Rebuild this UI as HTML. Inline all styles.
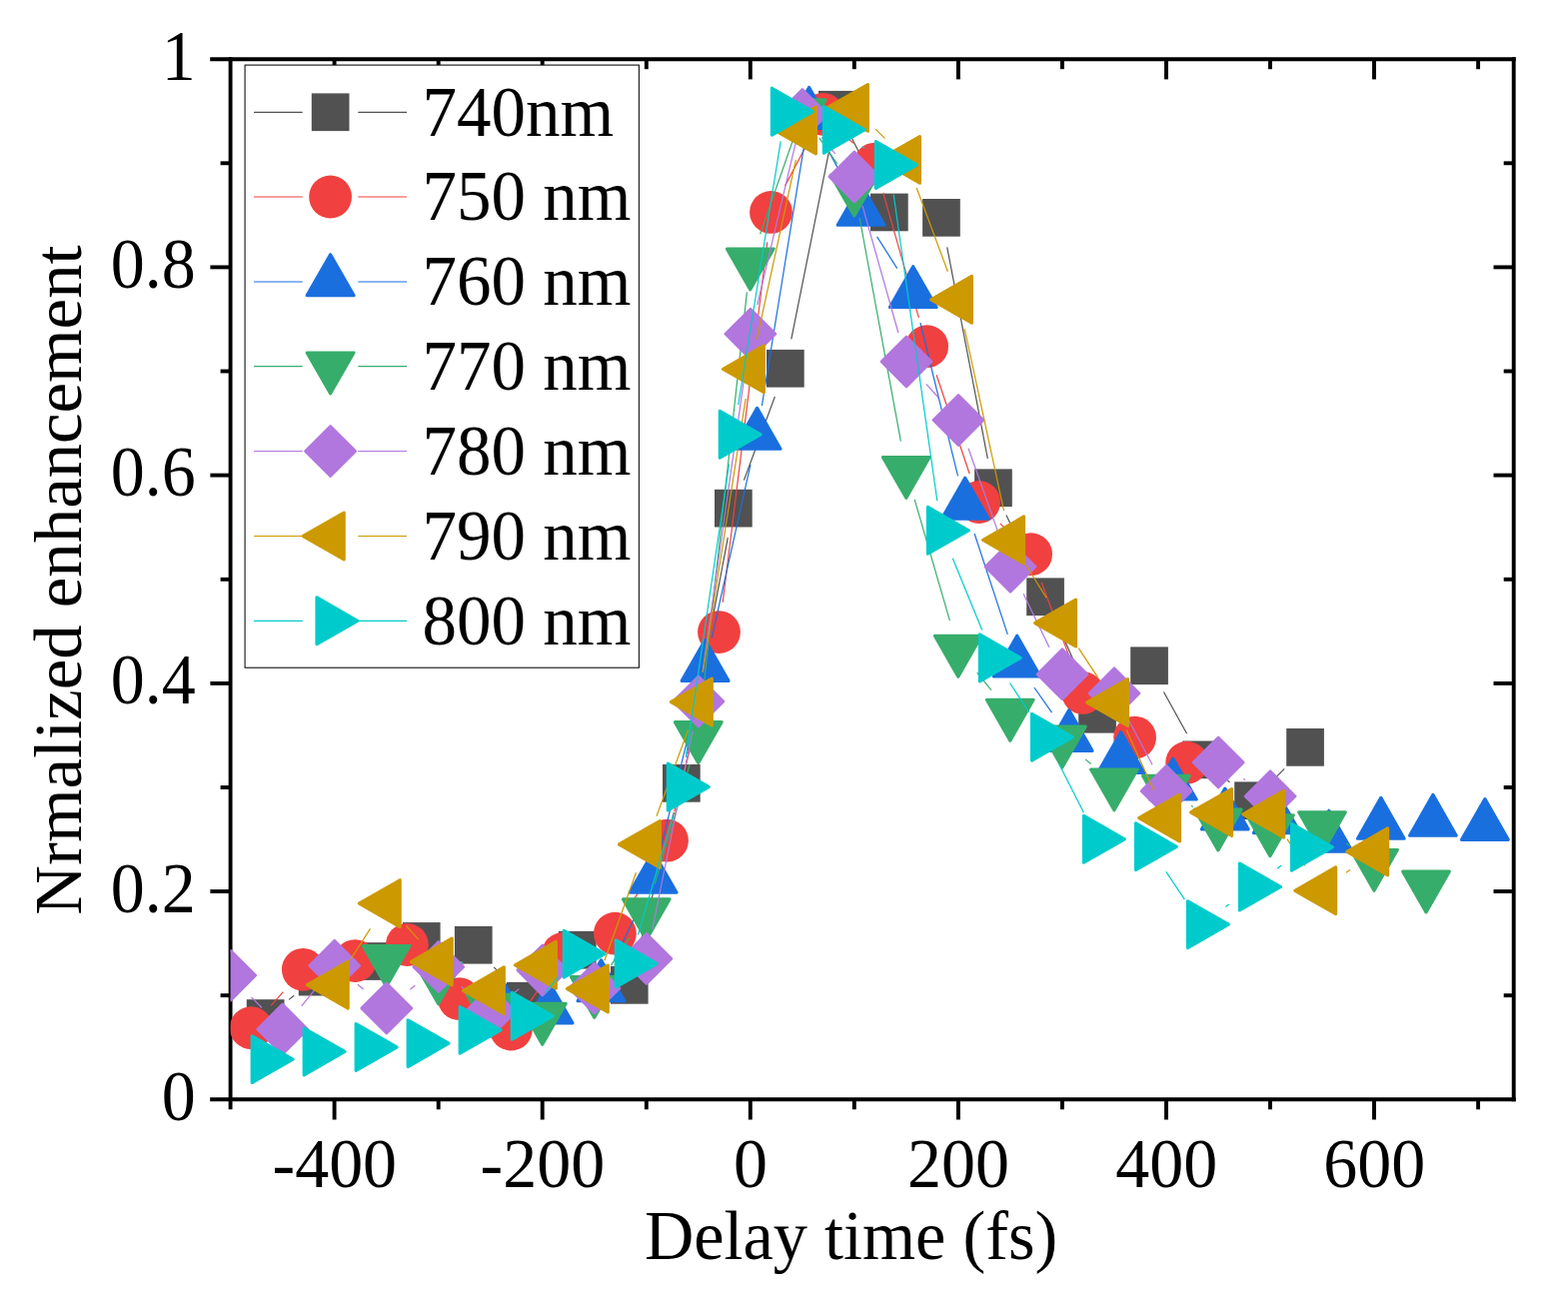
<!DOCTYPE html>
<html lang="en"><head><meta charset="utf-8"><title>Normalized enhancement vs delay time</title>
<style>html,body{margin:0;padding:0;background:#fff}body{width:1569px;height:1311px;overflow:hidden}svg{display:block}text{font-family:"Liberation Serif",serif;fill:#000}</style>
</head><body>
<svg width="1569" height="1311" viewBox="0 0 1569 1311">
<rect width="1569" height="1311" fill="#fff"/>
<g id="axes" stroke="#000" stroke-width="3.9" fill="none" stroke-linecap="butt">
<line x1="210.2" y1="59.2" x2="1516.7" y2="59.2"/>
<line x1="210.2" y1="1100.3" x2="1516.7" y2="1100.3"/>
<line x1="230.6" y1="57.2" x2="230.6" y2="1110.3"/>
<line x1="1514.7" y1="57.2" x2="1514.7" y2="1102.2"/>
<line x1="334.6" y1="1100.3" x2="334.6" y2="1120.5"/>
<line x1="334.6" y1="59.2" x2="334.6" y2="79.4"/>
<line x1="438.7" y1="1100.3" x2="438.7" y2="1110.3"/>
<line x1="438.7" y1="59.2" x2="438.7" y2="69.2"/>
<line x1="542.7" y1="1100.3" x2="542.7" y2="1120.5"/>
<line x1="542.7" y1="59.2" x2="542.7" y2="79.4"/>
<line x1="646.8" y1="1100.3" x2="646.8" y2="1110.3"/>
<line x1="646.8" y1="59.2" x2="646.8" y2="69.2"/>
<line x1="750.8" y1="1100.3" x2="750.8" y2="1120.5"/>
<line x1="750.8" y1="59.2" x2="750.8" y2="79.4"/>
<line x1="854.8" y1="1100.3" x2="854.8" y2="1110.3"/>
<line x1="854.8" y1="59.2" x2="854.8" y2="69.2"/>
<line x1="958.9" y1="1100.3" x2="958.9" y2="1120.5"/>
<line x1="958.9" y1="59.2" x2="958.9" y2="79.4"/>
<line x1="1062.9" y1="1100.3" x2="1062.9" y2="1110.3"/>
<line x1="1062.9" y1="59.2" x2="1062.9" y2="69.2"/>
<line x1="1167" y1="1100.3" x2="1167" y2="1120.5"/>
<line x1="1167" y1="59.2" x2="1167" y2="79.4"/>
<line x1="1271" y1="1100.3" x2="1271" y2="1110.3"/>
<line x1="1271" y1="59.2" x2="1271" y2="69.2"/>
<line x1="1375" y1="1100.3" x2="1375" y2="1120.5"/>
<line x1="1375" y1="59.2" x2="1375" y2="79.4"/>
<line x1="1479.1" y1="1100.3" x2="1479.1" y2="1110.3"/>
<line x1="1479.1" y1="59.2" x2="1479.1" y2="69.2"/>
<line x1="220.6" y1="996.2" x2="230.6" y2="996.2"/>
<line x1="1504.7" y1="996.2" x2="1514.7" y2="996.2"/>
<line x1="210.4" y1="892.1" x2="230.6" y2="892.1"/>
<line x1="1494.5" y1="892.1" x2="1514.7" y2="892.1"/>
<line x1="220.6" y1="788" x2="230.6" y2="788"/>
<line x1="1504.7" y1="788" x2="1514.7" y2="788"/>
<line x1="210.4" y1="683.9" x2="230.6" y2="683.9"/>
<line x1="1494.5" y1="683.9" x2="1514.7" y2="683.9"/>
<line x1="220.6" y1="579.8" x2="230.6" y2="579.8"/>
<line x1="1504.7" y1="579.8" x2="1514.7" y2="579.8"/>
<line x1="210.4" y1="475.6" x2="230.6" y2="475.6"/>
<line x1="1494.5" y1="475.6" x2="1514.7" y2="475.6"/>
<line x1="220.6" y1="371.5" x2="230.6" y2="371.5"/>
<line x1="1504.7" y1="371.5" x2="1514.7" y2="371.5"/>
<line x1="210.4" y1="267.4" x2="230.6" y2="267.4"/>
<line x1="1494.5" y1="267.4" x2="1514.7" y2="267.4"/>
<line x1="220.6" y1="163.3" x2="230.6" y2="163.3"/>
<line x1="1504.7" y1="163.3" x2="1514.7" y2="163.3"/>
</g>
<defs><clipPath id="plotclip"><rect x="230.6" y="59.2" width="1284.1" height="1041.1"/></clipPath></defs>
<g id="series" clip-path="url(#plotclip)">
<g class="s-sq">
<line x1="289.1" y1="1000.4" x2="294.3" y2="996.3" stroke="#515151" stroke-width="1.2"/>
<line x1="494.2" y1="967.8" x2="505.4" y2="979.8" stroke="#515151" stroke-width="1.2"/>
<line x1="547.2" y1="980.8" x2="556.4" y2="971.7" stroke="#515151" stroke-width="1.2"/>
<line x1="602.6" y1="967.5" x2="605" y2="969.1" stroke="#515151" stroke-width="1.2"/>
<line x1="637.3" y1="956.9" x2="674.4" y2="812.9" stroke="#515151" stroke-width="1.2"/>
<line x1="687.5" y1="754.4" x2="728.3" y2="538.2" stroke="#515151" stroke-width="1.2"/>
<line x1="744.4" y1="480.6" x2="775.4" y2="396.9" stroke="#515151" stroke-width="1.2"/>
<line x1="791.8" y1="339.4" x2="832" y2="139.2" stroke="#515151" stroke-width="1.2"/>
<line x1="851.5" y1="136.6" x2="876.3" y2="185.6" stroke="#515151" stroke-width="1.2"/>
<line x1="947.7" y1="247.3" x2="988.3" y2="458.8" stroke="#515151" stroke-width="1.2"/>
<line x1="1006.9" y1="515.4" x2="1033.1" y2="570.1" stroke="#515151" stroke-width="1.2"/>
<line x1="1058.1" y1="624.6" x2="1085.9" y2="687.3" stroke="#515151" stroke-width="1.2"/>
<line x1="1120" y1="694.3" x2="1128" y2="686.7" stroke="#515151" stroke-width="1.2"/>
<line x1="1164.5" y1="692.5" x2="1187.6" y2="734.2" stroke="#515151" stroke-width="1.2"/>
<line x1="1225.7" y1="778.9" x2="1230.5" y2="782.7" stroke="#515151" stroke-width="1.2"/>
<line x1="1275" y1="779.7" x2="1285.2" y2="769.4" stroke="#515151" stroke-width="1.2"/>
<rect x="246.8" y="1000.2" width="37.7" height="37.7" fill="#515151"/>
<rect x="298.8" y="958.8" width="37.7" height="37.7" fill="#515151"/>
<rect x="350.8" y="943.2" width="37.7" height="37.7" fill="#515151"/>
<rect x="402.9" y="923.1" width="37.7" height="37.7" fill="#515151"/>
<rect x="454.9" y="926.9" width="37.7" height="37.7" fill="#515151"/>
<rect x="506.9" y="982.9" width="37.7" height="37.7" fill="#515151"/>
<rect x="558.9" y="931.9" width="37.7" height="37.7" fill="#515151"/>
<rect x="610.9" y="967" width="37.7" height="37.7" fill="#515151"/>
<rect x="663" y="765" width="37.7" height="37.7" fill="#515151"/>
<rect x="715" y="489.8" width="37.7" height="37.7" fill="#515151"/>
<rect x="767" y="349.9" width="37.7" height="37.7" fill="#515151"/>
<rect x="819" y="90.9" width="37.7" height="37.7" fill="#515151"/>
<rect x="871" y="193.6" width="37.7" height="37.7" fill="#515151"/>
<rect x="923.1" y="199" width="37.7" height="37.7" fill="#515151"/>
<rect x="975.1" y="469.4" width="37.7" height="37.7" fill="#515151"/>
<rect x="1027.2" y="578.4" width="37.7" height="37.7" fill="#515151"/>
<rect x="1079.2" y="695.9" width="37.7" height="37.7" fill="#515151"/>
<rect x="1131.2" y="647.4" width="37.7" height="37.7" fill="#515151"/>
<rect x="1183.2" y="741.5" width="37.7" height="37.7" fill="#515151"/>
<rect x="1235.2" y="782.4" width="37.7" height="37.7" fill="#515151"/>
<rect x="1287.2" y="729" width="37.7" height="37.7" fill="#515151"/>
</g>
<g class="s-ci">
<line x1="271.2" y1="1006.3" x2="283.4" y2="992.7" stroke="#F14040" stroke-width="1.2"/>
<line x1="428.2" y1="967.1" x2="438.6" y2="978" stroke="#F14040" stroke-width="1.2"/>
<line x1="528.4" y1="1005.4" x2="546.4" y2="979.2" stroke="#F14040" stroke-width="1.2"/>
<line x1="630.1" y1="908" x2="652.8" y2="867.4" stroke="#F14040" stroke-width="1.2"/>
<line x1="674.8" y1="812.1" x2="712.2" y2="661.7" stroke="#F14040" stroke-width="1.2"/>
<line x1="723.2" y1="602.8" x2="767.8" y2="242.2" stroke="#F14040" stroke-width="1.2"/>
<line x1="785.6" y1="185.9" x2="809.4" y2="140.8" stroke="#F14040" stroke-width="1.2"/>
<line x1="845.2" y1="135" x2="853.8" y2="143.4" stroke="#F14040" stroke-width="1.2"/>
<line x1="883.7" y1="192.9" x2="919.4" y2="317.9" stroke="#F14040" stroke-width="1.2"/>
<line x1="937.1" y1="375.2" x2="970.1" y2="474" stroke="#F14040" stroke-width="1.2"/>
<line x1="1000.8" y1="523.8" x2="1010.4" y2="533.4" stroke="#F14040" stroke-width="1.2"/>
<line x1="1042.1" y1="582.8" x2="1073.1" y2="665.3" stroke="#F14040" stroke-width="1.2"/>
<line x1="1106.3" y1="713" x2="1112.9" y2="718.5" stroke="#F14040" stroke-width="1.2"/>
<circle cx="251.3" cy="1028.7" r="21.4" fill="#F14040"/>
<circle cx="303.3" cy="970.3" r="21.4" fill="#F14040"/>
<circle cx="355.3" cy="961.6" r="21.4" fill="#F14040"/>
<circle cx="407.4" cy="945.5" r="21.4" fill="#F14040"/>
<circle cx="459.4" cy="999.6" r="21.4" fill="#F14040"/>
<circle cx="511.4" cy="1030.1" r="21.4" fill="#F14040"/>
<circle cx="563.4" cy="954.5" r="21.4" fill="#F14040"/>
<circle cx="615.4" cy="934.2" r="21.4" fill="#F14040"/>
<circle cx="667.5" cy="841.2" r="21.4" fill="#F14040"/>
<circle cx="719.5" cy="632.6" r="21.4" fill="#F14040"/>
<circle cx="771.5" cy="212.4" r="21.4" fill="#F14040"/>
<circle cx="823.5" cy="114.3" r="21.4" fill="#F14040"/>
<circle cx="875.5" cy="164.1" r="21.4" fill="#F14040"/>
<circle cx="927.6" cy="346.7" r="21.4" fill="#F14040"/>
<circle cx="979.6" cy="502.5" r="21.4" fill="#F14040"/>
<circle cx="1031.6" cy="554.7" r="21.4" fill="#F14040"/>
<circle cx="1083.6" cy="693.4" r="21.4" fill="#F14040"/>
<circle cx="1135.6" cy="738.1" r="21.4" fill="#F14040"/>
<circle cx="1187.7" cy="763.2" r="21.4" fill="#F14040"/>
</g>
<g class="s-up">
<line x1="614.5" y1="961.1" x2="640.6" y2="906.6" stroke="#1A6FDF" stroke-width="1.2"/>
<line x1="660.8" y1="850.5" x2="698.4" y2="696.9" stroke="#1A6FDF" stroke-width="1.2"/>
<line x1="712.2" y1="638.5" x2="751" y2="464.9" stroke="#1A6FDF" stroke-width="1.2"/>
<line x1="762.4" y1="406" x2="804.8" y2="144.3" stroke="#1A6FDF" stroke-width="1.2"/>
<line x1="823.8" y1="141.1" x2="847.4" y2="185.2" stroke="#1A6FDF" stroke-width="1.2"/>
<line x1="877.6" y1="236.9" x2="897.7" y2="268.6" stroke="#1A6FDF" stroke-width="1.2"/>
<line x1="920.9" y1="323" x2="958.5" y2="476.4" stroke="#1A6FDF" stroke-width="1.2"/>
<line x1="975.1" y1="534" x2="1008.3" y2="634.9" stroke="#1A6FDF" stroke-width="1.2"/>
<line x1="1034.9" y1="688" x2="1052.5" y2="713.2" stroke="#1A6FDF" stroke-width="1.2"/>
<polygon points="497.5,971.8 520.9,1012.6 474.1,1012.6" fill="#1A6FDF" stroke="#1A6FDF" stroke-width="3.2" stroke-linejoin="round"/>
<polygon points="549.5,983 572.9,1023.8 526.1,1023.8" fill="#1A6FDF" stroke="#1A6FDF" stroke-width="3.2" stroke-linejoin="round"/>
<polygon points="601.5,960.9 624.9,1001.7 578.1,1001.7" fill="#1A6FDF" stroke="#1A6FDF" stroke-width="3.2" stroke-linejoin="round"/>
<polygon points="653.6,852.4 677,893.2 630.2,893.2" fill="#1A6FDF" stroke="#1A6FDF" stroke-width="3.2" stroke-linejoin="round"/>
<polygon points="705.6,640.6 729,681.4 682.2,681.4" fill="#1A6FDF" stroke="#1A6FDF" stroke-width="3.2" stroke-linejoin="round"/>
<polygon points="757.6,408.4 781,449.2 734.2,449.2" fill="#1A6FDF" stroke="#1A6FDF" stroke-width="3.2" stroke-linejoin="round"/>
<polygon points="809.6,87.5 833,128.3 786.2,128.3" fill="#1A6FDF" stroke="#1A6FDF" stroke-width="3.2" stroke-linejoin="round"/>
<polygon points="861.6,184.4 885,225.2 838.2,225.2" fill="#1A6FDF" stroke="#1A6FDF" stroke-width="3.2" stroke-linejoin="round"/>
<polygon points="913.7,266.7 937.1,307.5 890.4,307.5" fill="#1A6FDF" stroke="#1A6FDF" stroke-width="3.2" stroke-linejoin="round"/>
<polygon points="965.7,478.3 989.1,519.1 942.4,519.1" fill="#1A6FDF" stroke="#1A6FDF" stroke-width="3.2" stroke-linejoin="round"/>
<polygon points="1017.7,636.2 1041,677 994.4,677" fill="#1A6FDF" stroke="#1A6FDF" stroke-width="3.2" stroke-linejoin="round"/>
<polygon points="1069.7,710.6 1093,751.4 1046.4,751.4" fill="#1A6FDF" stroke="#1A6FDF" stroke-width="3.2" stroke-linejoin="round"/>
<polygon points="1121.7,732.7 1145,773.5 1098.4,773.5" fill="#1A6FDF" stroke="#1A6FDF" stroke-width="3.2" stroke-linejoin="round"/>
<polygon points="1173.8,759.2 1197.1,800 1150.5,800" fill="#1A6FDF" stroke="#1A6FDF" stroke-width="3.2" stroke-linejoin="round"/>
<polygon points="1225.8,789.1 1249.1,829.9 1202.5,829.9" fill="#1A6FDF" stroke="#1A6FDF" stroke-width="3.2" stroke-linejoin="round"/>
<polygon points="1277.8,792.8 1301.1,833.6 1254.5,833.6" fill="#1A6FDF" stroke="#1A6FDF" stroke-width="3.2" stroke-linejoin="round"/>
<polygon points="1329.8,811.3 1353.1,852.1 1306.5,852.1" fill="#1A6FDF" stroke="#1A6FDF" stroke-width="3.2" stroke-linejoin="round"/>
<polygon points="1381.8,798.4 1405.1,839.2 1358.5,839.2" fill="#1A6FDF" stroke="#1A6FDF" stroke-width="3.2" stroke-linejoin="round"/>
<polygon points="1433.9,795.4 1457.2,836.2 1410.6,836.2" fill="#1A6FDF" stroke="#1A6FDF" stroke-width="3.2" stroke-linejoin="round"/>
<polygon points="1485.9,799.6 1509.2,840.4 1462.6,840.4" fill="#1A6FDF" stroke="#1A6FDF" stroke-width="3.2" stroke-linejoin="round"/>
</g>
<g class="s-dn">
<line x1="464.2" y1="992.9" x2="465" y2="993.3" stroke="#37AD6B" stroke-width="1.2"/>
<line x1="611.4" y1="966.2" x2="630" y2="938.3" stroke="#37AD6B" stroke-width="1.2"/>
<line x1="655.2" y1="884.6" x2="690.2" y2="765.1" stroke="#37AD6B" stroke-width="1.2"/>
<line x1="702" y1="706.5" x2="747.4" y2="292.4" stroke="#37AD6B" stroke-width="1.2"/>
<line x1="760.6" y1="234.3" x2="792.9" y2="141.8" stroke="#37AD6B" stroke-width="1.2"/>
<line x1="819.9" y1="138.2" x2="837.7" y2="164" stroke="#37AD6B" stroke-width="1.2"/>
<line x1="860.2" y1="218.2" x2="901.4" y2="441.6" stroke="#37AD6B" stroke-width="1.2"/>
<line x1="915.2" y1="499.9" x2="950.4" y2="621.1" stroke="#37AD6B" stroke-width="1.2"/>
<line x1="977.7" y1="673.2" x2="991.9" y2="690.6" stroke="#37AD6B" stroke-width="1.2"/>
<line x1="1086.1" y1="759.9" x2="1091.7" y2="764.5" stroke="#37AD6B" stroke-width="1.2"/>
<line x1="1192.1" y1="806.3" x2="1193.7" y2="807.4" stroke="#37AD6B" stroke-width="1.2"/>
<line x1="1347.3" y1="844" x2="1350.7" y2="846.5" stroke="#37AD6B" stroke-width="1.2"/>
<polygon points="386.6,987.3 410,946.5 363.2,946.5" fill="#37AD6B" stroke="#37AD6B" stroke-width="3.2" stroke-linejoin="round"/>
<polygon points="438.6,1004.5 462,963.7 415.2,963.7" fill="#37AD6B" stroke="#37AD6B" stroke-width="3.2" stroke-linejoin="round"/>
<polygon points="490.6,1036.1 514,995.3 467.2,995.3" fill="#37AD6B" stroke="#37AD6B" stroke-width="3.2" stroke-linejoin="round"/>
<polygon points="542.7,1045.2 566.1,1004.4 519.4,1004.4" fill="#37AD6B" stroke="#37AD6B" stroke-width="3.2" stroke-linejoin="round"/>
<polygon points="594.7,1018.3 618.1,977.5 571.4,977.5" fill="#37AD6B" stroke="#37AD6B" stroke-width="3.2" stroke-linejoin="round"/>
<polygon points="646.7,940.6 670.1,899.8 623.4,899.8" fill="#37AD6B" stroke="#37AD6B" stroke-width="3.2" stroke-linejoin="round"/>
<polygon points="698.7,763.5 722.1,722.7 675.4,722.7" fill="#37AD6B" stroke="#37AD6B" stroke-width="3.2" stroke-linejoin="round"/>
<polygon points="750.7,289.8 774.1,249 727.4,249" fill="#37AD6B" stroke="#37AD6B" stroke-width="3.2" stroke-linejoin="round"/>
<polygon points="802.8,140.7 826.1,99.9 779.4,99.9" fill="#37AD6B" stroke="#37AD6B" stroke-width="3.2" stroke-linejoin="round"/>
<polygon points="854.8,215.9 878.1,175.1 831.4,175.1" fill="#37AD6B" stroke="#37AD6B" stroke-width="3.2" stroke-linejoin="round"/>
<polygon points="906.8,498.3 930.1,457.5 883.4,457.5" fill="#37AD6B" stroke="#37AD6B" stroke-width="3.2" stroke-linejoin="round"/>
<polygon points="958.8,677.1 982.1,636.3 935.4,636.3" fill="#37AD6B" stroke="#37AD6B" stroke-width="3.2" stroke-linejoin="round"/>
<polygon points="1010.8,741.1 1034.1,700.3 987.4,700.3" fill="#37AD6B" stroke="#37AD6B" stroke-width="3.2" stroke-linejoin="round"/>
<polygon points="1062.9,768 1086.2,727.2 1039.6,727.2" fill="#37AD6B" stroke="#37AD6B" stroke-width="3.2" stroke-linejoin="round"/>
<polygon points="1114.9,810.8 1138.2,770 1091.6,770" fill="#37AD6B" stroke="#37AD6B" stroke-width="3.2" stroke-linejoin="round"/>
<polygon points="1166.9,817.2 1190.2,776.4 1143.6,776.4" fill="#37AD6B" stroke="#37AD6B" stroke-width="3.2" stroke-linejoin="round"/>
<polygon points="1218.9,850.9 1242.2,810.1 1195.6,810.1" fill="#37AD6B" stroke="#37AD6B" stroke-width="3.2" stroke-linejoin="round"/>
<polygon points="1270.9,856.6 1294.2,815.8 1247.6,815.8" fill="#37AD6B" stroke="#37AD6B" stroke-width="3.2" stroke-linejoin="round"/>
<polygon points="1323,853.6 1346.3,812.8 1299.7,812.8" fill="#37AD6B" stroke="#37AD6B" stroke-width="3.2" stroke-linejoin="round"/>
<polygon points="1375,891.3 1398.3,850.5 1351.7,850.5" fill="#37AD6B" stroke="#37AD6B" stroke-width="3.2" stroke-linejoin="round"/>
<polygon points="1427,912.9 1450.3,872.1 1403.7,872.1" fill="#37AD6B" stroke="#37AD6B" stroke-width="3.2" stroke-linejoin="round"/>
</g>
<g class="s-di">
<line x1="251.5" y1="997.8" x2="261.9" y2="1008.5" stroke="#B177DE" stroke-width="1.2"/>
<line x1="301.7" y1="1006.8" x2="315.7" y2="989.6" stroke="#B177DE" stroke-width="1.2"/>
<line x1="357.9" y1="985.3" x2="363.6" y2="990" stroke="#B177DE" stroke-width="1.2"/>
<line x1="410.3" y1="990.3" x2="415.3" y2="986.3" stroke="#B177DE" stroke-width="1.2"/>
<line x1="461.5" y1="987.2" x2="468.1" y2="992.8" stroke="#B177DE" stroke-width="1.2"/>
<line x1="514.2" y1="993.7" x2="519.4" y2="989.6" stroke="#B177DE" stroke-width="1.2"/>
<line x1="652.8" y1="930" x2="693" y2="731.4" stroke="#B177DE" stroke-width="1.2"/>
<line x1="703.1" y1="672.3" x2="746.7" y2="363.9" stroke="#B177DE" stroke-width="1.2"/>
<line x1="757.8" y1="305" x2="796" y2="143.6" stroke="#B177DE" stroke-width="1.2"/>
<line x1="822.1" y1="137.5" x2="835.7" y2="153.8" stroke="#B177DE" stroke-width="1.2"/>
<line x1="863" y1="205.8" x2="898.9" y2="333" stroke="#B177DE" stroke-width="1.2"/>
<line x1="926.9" y1="384.3" x2="939.1" y2="398" stroke="#B177DE" stroke-width="1.2"/>
<line x1="969" y1="448.7" x2="1001" y2="538.9" stroke="#B177DE" stroke-width="1.2"/>
<line x1="1024.1" y1="594.2" x2="1049.9" y2="647.8" stroke="#B177DE" stroke-width="1.2"/>
<line x1="1129.1" y1="720.3" x2="1153" y2="765.1" stroke="#B177DE" stroke-width="1.2"/>
<line x1="1244.3" y1="779.3" x2="1245.9" y2="780.5" stroke="#B177DE" stroke-width="1.2"/>
<polygon points="230.7,951.1 255.8,976.2 230.7,1001.3 205.6,976.2" fill="#B177DE" stroke="#B177DE" stroke-width="2.6" stroke-linejoin="round"/>
<polygon points="282.7,1005 307.8,1030.1 282.7,1055.2 257.6,1030.1" fill="#B177DE" stroke="#B177DE" stroke-width="2.6" stroke-linejoin="round"/>
<polygon points="334.7,941.2 359.8,966.3 334.7,991.4 309.6,966.3" fill="#B177DE" stroke="#B177DE" stroke-width="2.6" stroke-linejoin="round"/>
<polygon points="386.8,983.9 411.9,1009 386.8,1034.1 361.7,1009" fill="#B177DE" stroke="#B177DE" stroke-width="2.6" stroke-linejoin="round"/>
<polygon points="438.8,942.5 463.9,967.6 438.8,992.7 413.7,967.6" fill="#B177DE" stroke="#B177DE" stroke-width="2.6" stroke-linejoin="round"/>
<polygon points="490.8,987.3 515.9,1012.4 490.8,1037.5 465.7,1012.4" fill="#B177DE" stroke="#B177DE" stroke-width="2.6" stroke-linejoin="round"/>
<polygon points="542.8,945.8 567.9,970.9 542.8,996 517.7,970.9" fill="#B177DE" stroke="#B177DE" stroke-width="2.6" stroke-linejoin="round"/>
<polygon points="594.8,963.9 619.9,989 594.8,1014.1 569.7,989" fill="#B177DE" stroke="#B177DE" stroke-width="2.6" stroke-linejoin="round"/>
<polygon points="646.9,934.3 672,959.4 646.9,984.5 621.8,959.4" fill="#B177DE" stroke="#B177DE" stroke-width="2.6" stroke-linejoin="round"/>
<polygon points="698.9,676.9 724,702 698.9,727.1 673.8,702" fill="#B177DE" stroke="#B177DE" stroke-width="2.6" stroke-linejoin="round"/>
<polygon points="750.9,309.1 776,334.2 750.9,359.3 725.8,334.2" fill="#B177DE" stroke="#B177DE" stroke-width="2.6" stroke-linejoin="round"/>
<polygon points="802.9,89.3 828,114.4 802.9,139.5 777.8,114.4" fill="#B177DE" stroke="#B177DE" stroke-width="2.6" stroke-linejoin="round"/>
<polygon points="854.9,151.8 880,176.9 854.9,202 829.8,176.9" fill="#B177DE" stroke="#B177DE" stroke-width="2.6" stroke-linejoin="round"/>
<polygon points="907,336.8 932.1,361.9 907,387 881.9,361.9" fill="#B177DE" stroke="#B177DE" stroke-width="2.6" stroke-linejoin="round"/>
<polygon points="959,395.3 984.1,420.4 959,445.5 933.9,420.4" fill="#B177DE" stroke="#B177DE" stroke-width="2.6" stroke-linejoin="round"/>
<polygon points="1011,542.1 1036.1,567.2 1011,592.3 985.9,567.2" fill="#B177DE" stroke="#B177DE" stroke-width="2.6" stroke-linejoin="round"/>
<polygon points="1063,649.7 1088.1,674.8 1063,699.9 1037.9,674.8" fill="#B177DE" stroke="#B177DE" stroke-width="2.6" stroke-linejoin="round"/>
<polygon points="1115,668.7 1140.1,693.8 1115,718.9 1089.9,693.8" fill="#B177DE" stroke="#B177DE" stroke-width="2.6" stroke-linejoin="round"/>
<polygon points="1167.1,766.5 1192.2,791.6 1167.1,816.7 1142,791.6" fill="#B177DE" stroke="#B177DE" stroke-width="2.6" stroke-linejoin="round"/>
<polygon points="1219.1,737.9 1244.2,763 1219.1,788.1 1194,763" fill="#B177DE" stroke="#B177DE" stroke-width="2.6" stroke-linejoin="round"/>
<polygon points="1271.1,771.7 1296.2,796.8 1271.1,821.9 1246,796.8" fill="#B177DE" stroke="#B177DE" stroke-width="2.6" stroke-linejoin="round"/>
</g>
<g class="s-lt">
<line x1="350.7" y1="960.4" x2="370.5" y2="929.4" stroke="#CC9900" stroke-width="1.2"/>
<line x1="406.5" y1="926.5" x2="418.7" y2="940.1" stroke="#CC9900" stroke-width="1.2"/>
<line x1="604.9" y1="961.3" x2="636.5" y2="873.2" stroke="#CC9900" stroke-width="1.2"/>
<line x1="657" y1="816.8" x2="688.4" y2="730.7" stroke="#CC9900" stroke-width="1.2"/>
<line x1="703.3" y1="672.9" x2="746.2" y2="398.9" stroke="#CC9900" stroke-width="1.2"/>
<line x1="757.2" y1="340" x2="796.4" y2="159.8" stroke="#CC9900" stroke-width="1.2"/>
<line x1="876" y1="129.1" x2="885.6" y2="138.7" stroke="#CC9900" stroke-width="1.2"/>
<line x1="917.2" y1="188" x2="948.4" y2="271.8" stroke="#CC9900" stroke-width="1.2"/>
<line x1="965.2" y1="329.2" x2="1004.5" y2="511.1" stroke="#CC9900" stroke-width="1.2"/>
<line x1="1026.8" y1="565.8" x2="1047" y2="598.1" stroke="#CC9900" stroke-width="1.2"/>
<line x1="1079.3" y1="648.6" x2="1098.5" y2="677.9" stroke="#CC9900" stroke-width="1.2"/>
<line x1="1127.2" y1="730.4" x2="1154.6" y2="791.2" stroke="#CC9900" stroke-width="1.2"/>
<line x1="1287.9" y1="839.6" x2="1306.1" y2="866.5" stroke="#CC9900" stroke-width="1.2"/>
<line x1="1347" y1="873.3" x2="1351" y2="870.4" stroke="#CC9900" stroke-width="1.2"/>
<polygon points="307.4,985.7 348.2,962.4 348.2,1009.1" fill="#CC9900" stroke="#CC9900" stroke-width="3.2" stroke-linejoin="round"/>
<polygon points="359.4,904.1 400.2,880.8 400.2,927.5" fill="#CC9900" stroke="#CC9900" stroke-width="3.2" stroke-linejoin="round"/>
<polygon points="411.4,962.5 452.2,939.1 452.2,985.9" fill="#CC9900" stroke="#CC9900" stroke-width="3.2" stroke-linejoin="round"/>
<polygon points="463.5,991.3 504.3,967.9 504.3,1014.6" fill="#CC9900" stroke="#CC9900" stroke-width="3.2" stroke-linejoin="round"/>
<polygon points="515.5,965.9 556.3,942.5 556.3,989.2" fill="#CC9900" stroke="#CC9900" stroke-width="3.2" stroke-linejoin="round"/>
<polygon points="567.5,989.5 608.3,966.1 608.3,1012.9" fill="#CC9900" stroke="#CC9900" stroke-width="3.2" stroke-linejoin="round"/>
<polygon points="619.5,845 660.3,821.6 660.3,868.4" fill="#CC9900" stroke="#CC9900" stroke-width="3.2" stroke-linejoin="round"/>
<polygon points="671.5,702.5 712.3,679.1 712.3,725.9" fill="#CC9900" stroke="#CC9900" stroke-width="3.2" stroke-linejoin="round"/>
<polygon points="723.6,369.3 764.4,345.9 764.4,392.7" fill="#CC9900" stroke="#CC9900" stroke-width="3.2" stroke-linejoin="round"/>
<polygon points="775.6,130.5 816.4,107.2 816.4,153.8" fill="#CC9900" stroke="#CC9900" stroke-width="3.2" stroke-linejoin="round"/>
<polygon points="827.6,107.9 868.4,84.6 868.4,131.2" fill="#CC9900" stroke="#CC9900" stroke-width="3.2" stroke-linejoin="round"/>
<polygon points="879.6,159.9 920.4,136.6 920.4,183.2" fill="#CC9900" stroke="#CC9900" stroke-width="3.2" stroke-linejoin="round"/>
<polygon points="931.6,299.9 972.4,276.5 972.4,323.2" fill="#CC9900" stroke="#CC9900" stroke-width="3.2" stroke-linejoin="round"/>
<polygon points="983.7,540.4 1024.5,517 1024.5,563.8" fill="#CC9900" stroke="#CC9900" stroke-width="3.2" stroke-linejoin="round"/>
<polygon points="1035.7,623.5 1076.5,600.1 1076.5,646.9" fill="#CC9900" stroke="#CC9900" stroke-width="3.2" stroke-linejoin="round"/>
<polygon points="1087.7,703 1128.5,679.6 1128.5,726.4" fill="#CC9900" stroke="#CC9900" stroke-width="3.2" stroke-linejoin="round"/>
<polygon points="1139.7,818.6 1180.5,795.2 1180.5,842" fill="#CC9900" stroke="#CC9900" stroke-width="3.2" stroke-linejoin="round"/>
<polygon points="1191.7,813 1232.5,789.6 1232.5,836.4" fill="#CC9900" stroke="#CC9900" stroke-width="3.2" stroke-linejoin="round"/>
<polygon points="1243.8,814.8 1284.6,791.4 1284.6,838.1" fill="#CC9900" stroke="#CC9900" stroke-width="3.2" stroke-linejoin="round"/>
<polygon points="1295.8,891.3 1336.6,867.9 1336.6,914.6" fill="#CC9900" stroke="#CC9900" stroke-width="3.2" stroke-linejoin="round"/>
<polygon points="1347.8,852.4 1388.6,829 1388.6,875.8" fill="#CC9900" stroke="#CC9900" stroke-width="3.2" stroke-linejoin="round"/>
</g>
<g class="s-rt">
<line x1="545.1" y1="993.9" x2="558.7" y2="977.7" stroke="#00CBCC" stroke-width="1.2"/>
<line x1="638.4" y1="935.6" x2="673.4" y2="816.3" stroke="#00CBCC" stroke-width="1.2"/>
<line x1="686.3" y1="757.8" x2="729.5" y2="464.5" stroke="#00CBCC" stroke-width="1.2"/>
<line x1="738.7" y1="405.2" x2="781.2" y2="141.3" stroke="#00CBCC" stroke-width="1.2"/>
<line x1="862.9" y1="146.7" x2="865.1" y2="148.2" stroke="#00CBCC" stroke-width="1.2"/>
<line x1="894.2" y1="194.7" x2="937.8" y2="501.2" stroke="#00CBCC" stroke-width="1.2"/>
<line x1="953.3" y1="558.7" x2="982.7" y2="630.6" stroke="#00CBCC" stroke-width="1.2"/>
<line x1="1010.5" y1="683.5" x2="1029.6" y2="712.6" stroke="#00CBCC" stroke-width="1.2"/>
<line x1="1059.7" y1="764.4" x2="1084.5" y2="813.2" stroke="#00CBCC" stroke-width="1.2"/>
<line x1="1166.8" y1="872.3" x2="1185.4" y2="900.2" stroke="#00CBCC" stroke-width="1.2"/>
<line x1="1226.4" y1="907.6" x2="1229.8" y2="905.1" stroke="#00CBCC" stroke-width="1.2"/>
<line x1="1278" y1="869.3" x2="1282.3" y2="866.1" stroke="#00CBCC" stroke-width="1.2"/>
<polygon points="293,1060.2 252.2,1036.9 252.2,1083.5" fill="#00CBCC" stroke="#00CBCC" stroke-width="3.2" stroke-linejoin="round"/>
<polygon points="345,1052.4 304.2,1029.1 304.2,1075.8" fill="#00CBCC" stroke="#00CBCC" stroke-width="3.2" stroke-linejoin="round"/>
<polygon points="397,1048 356.2,1024.7 356.2,1071.3" fill="#00CBCC" stroke="#00CBCC" stroke-width="3.2" stroke-linejoin="round"/>
<polygon points="449,1044.2 408.2,1020.9 408.2,1067.5" fill="#00CBCC" stroke="#00CBCC" stroke-width="3.2" stroke-linejoin="round"/>
<polygon points="501,1030.9 460.2,1007.6 460.2,1054.2" fill="#00CBCC" stroke="#00CBCC" stroke-width="3.2" stroke-linejoin="round"/>
<polygon points="553.1,1016.9 512.3,993.5 512.3,1040.2" fill="#00CBCC" stroke="#00CBCC" stroke-width="3.2" stroke-linejoin="round"/>
<polygon points="605.1,954.7 564.3,931.4 564.3,978.1" fill="#00CBCC" stroke="#00CBCC" stroke-width="3.2" stroke-linejoin="round"/>
<polygon points="657.1,964.4 616.3,941 616.3,987.8" fill="#00CBCC" stroke="#00CBCC" stroke-width="3.2" stroke-linejoin="round"/>
<polygon points="709.1,787.5 668.3,764.1 668.3,810.9" fill="#00CBCC" stroke="#00CBCC" stroke-width="3.2" stroke-linejoin="round"/>
<polygon points="761.1,434.8 720.3,411.4 720.3,458.2" fill="#00CBCC" stroke="#00CBCC" stroke-width="3.2" stroke-linejoin="round"/>
<polygon points="813.2,111.7 772.4,88.3 772.4,135.1" fill="#00CBCC" stroke="#00CBCC" stroke-width="3.2" stroke-linejoin="round"/>
<polygon points="865.2,129.9 824.4,106.6 824.4,153.2" fill="#00CBCC" stroke="#00CBCC" stroke-width="3.2" stroke-linejoin="round"/>
<polygon points="917.2,165 876.4,141.7 876.4,188.3" fill="#00CBCC" stroke="#00CBCC" stroke-width="3.2" stroke-linejoin="round"/>
<polygon points="969.2,530.9 928.4,507.5 928.4,554.2" fill="#00CBCC" stroke="#00CBCC" stroke-width="3.2" stroke-linejoin="round"/>
<polygon points="1021.2,658.4 980.4,635 980.4,681.8" fill="#00CBCC" stroke="#00CBCC" stroke-width="3.2" stroke-linejoin="round"/>
<polygon points="1073.3,737.7 1032.5,714.4 1032.5,761.1" fill="#00CBCC" stroke="#00CBCC" stroke-width="3.2" stroke-linejoin="round"/>
<polygon points="1125.3,839.9 1084.5,816.5 1084.5,863.2" fill="#00CBCC" stroke="#00CBCC" stroke-width="3.2" stroke-linejoin="round"/>
<polygon points="1177.3,847.3 1136.5,823.9 1136.5,870.6" fill="#00CBCC" stroke="#00CBCC" stroke-width="3.2" stroke-linejoin="round"/>
<polygon points="1229.3,925.2 1188.5,901.9 1188.5,948.6" fill="#00CBCC" stroke="#00CBCC" stroke-width="3.2" stroke-linejoin="round"/>
<polygon points="1281.3,887.5 1240.5,864.1 1240.5,910.9" fill="#00CBCC" stroke="#00CBCC" stroke-width="3.2" stroke-linejoin="round"/>
<polygon points="1333.4,847.9 1292.6,824.5 1292.6,871.2" fill="#00CBCC" stroke="#00CBCC" stroke-width="3.2" stroke-linejoin="round"/>
</g>
</g>
<g id="ticklabels" font-size="68">
<text transform="translate(334.8,1188.3) scale(1,1.035)" text-anchor="middle">-400</text>
<text transform="translate(542.9,1188.3) scale(1,1.035)" text-anchor="middle">-200</text>
<text transform="translate(751,1188.3) scale(1,1.035)" text-anchor="middle">0</text>
<text transform="translate(959.1,1188.3) scale(1,1.035)" text-anchor="middle">200</text>
<text transform="translate(1167.2,1188.3) scale(1,1.035)" text-anchor="middle">400</text>
<text transform="translate(1375.2,1188.3) scale(1,1.035)" text-anchor="middle">600</text>
<text transform="translate(195.8,1120.8) scale(1,1.046)" text-anchor="end">0</text>
<text transform="translate(195.8,912.6) scale(1,1.046)" text-anchor="end">0.2</text>
<text transform="translate(195.8,704.4) scale(1,1.046)" text-anchor="end">0.4</text>
<text transform="translate(195.8,496.1) scale(1,1.046)" text-anchor="end">0.6</text>
<text transform="translate(195.8,287.9) scale(1,1.046)" text-anchor="end">0.8</text>
<text transform="translate(195.8,79.7) scale(1,1.046)" text-anchor="end">1</text>
</g>
<text id="xtitle" transform="translate(851.6,1259.8) scale(1,1.01)" font-size="68.3" text-anchor="middle">Delay time (fs)</text>
<text id="ytitle" transform="translate(81,580.5) rotate(-90) scale(1,0.985)" font-size="68.8" text-anchor="middle">Nrmalized enhancement</text>
<g id="legend">
<rect x="245.1" y="65.1" width="394.3" height="603.1" fill="#fff" stroke="#111" stroke-width="1.1"/>
<line x1="254" y1="112.3" x2="302.7" y2="112.3" stroke="#515151" stroke-width="1.2"/>
<line x1="358.3" y1="112.3" x2="407.1" y2="112.3" stroke="#515151" stroke-width="1.2"/>
<rect x="311.8" y="93.4" width="37.7" height="37.7" fill="#515151"/>
<text transform="translate(422.6,135.5) scale(1,1.04)" font-size="69">740nm</text>
<line x1="254" y1="197" x2="302.7" y2="197" stroke="#F14040" stroke-width="1.2"/>
<line x1="358.3" y1="197" x2="407.1" y2="197" stroke="#F14040" stroke-width="1.2"/>
<circle cx="330.6" cy="197" r="21.4" fill="#F14040"/>
<text transform="translate(422.6,220.2) scale(1,1.04)" font-size="69">750 nm</text>
<line x1="254" y1="282" x2="302.7" y2="282" stroke="#1A6FDF" stroke-width="1.2"/>
<line x1="358.3" y1="282" x2="407.1" y2="282" stroke="#1A6FDF" stroke-width="1.2"/>
<polygon points="330.6,254.8 354,295.6 307.2,295.6" fill="#1A6FDF" stroke="#1A6FDF" stroke-width="3.2" stroke-linejoin="round"/>
<text transform="translate(422.6,305.2) scale(1,1.04)" font-size="69">760 nm</text>
<line x1="254" y1="366.6" x2="302.7" y2="366.6" stroke="#37AD6B" stroke-width="1.2"/>
<line x1="358.3" y1="366.6" x2="407.1" y2="366.6" stroke="#37AD6B" stroke-width="1.2"/>
<polygon points="330.6,393.8 354,353 307.2,353" fill="#37AD6B" stroke="#37AD6B" stroke-width="3.2" stroke-linejoin="round"/>
<text transform="translate(422.6,389.8) scale(1,1.04)" font-size="69">770 nm</text>
<line x1="254" y1="451.5" x2="302.7" y2="451.5" stroke="#B177DE" stroke-width="1.2"/>
<line x1="358.3" y1="451.5" x2="407.1" y2="451.5" stroke="#B177DE" stroke-width="1.2"/>
<polygon points="330.6,426.4 355.7,451.5 330.6,476.6 305.5,451.5" fill="#B177DE" stroke="#B177DE" stroke-width="2.6" stroke-linejoin="round"/>
<text transform="translate(422.6,474.7) scale(1,1.04)" font-size="69">780 nm</text>
<line x1="254" y1="536.5" x2="302.7" y2="536.5" stroke="#CC9900" stroke-width="1.2"/>
<line x1="358.3" y1="536.5" x2="407.1" y2="536.5" stroke="#CC9900" stroke-width="1.2"/>
<polygon points="303.4,536.5 344.2,513.1 344.2,559.9" fill="#CC9900" stroke="#CC9900" stroke-width="3.2" stroke-linejoin="round"/>
<text transform="translate(422.6,559.7) scale(1,1.04)" font-size="69">790 nm</text>
<line x1="254" y1="621.3" x2="302.7" y2="621.3" stroke="#00CBCC" stroke-width="1.2"/>
<line x1="357" y1="621.3" x2="407.1" y2="621.3" stroke="#00CBCC" stroke-width="1.2"/>
<polygon points="357.8,621.3 317,597.9 317,644.6" fill="#00CBCC" stroke="#00CBCC" stroke-width="3.2" stroke-linejoin="round"/>
<text transform="translate(422.6,644.5) scale(1,1.04)" font-size="69">800 nm</text>
</g>
</svg>
</body></html>
